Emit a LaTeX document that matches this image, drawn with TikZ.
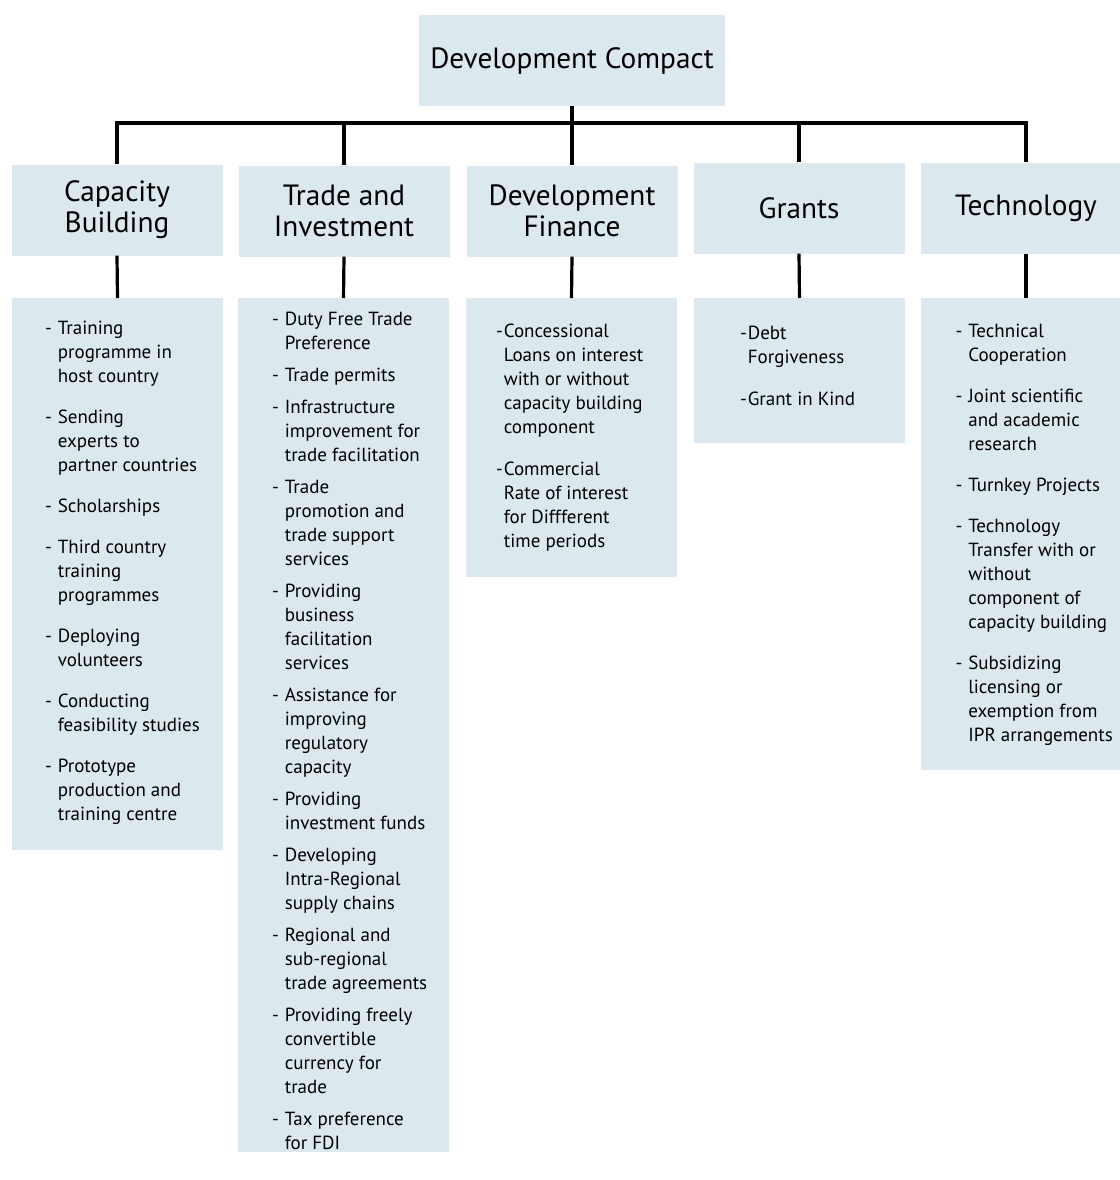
\documentclass[tikz,border=0pt]{standalone}
\usepackage{fontspec}
\setmainfont{PT Sans}
\usetikzlibrary{positioning}
\usepackage{xcolor}
\definecolor{boxblue}{RGB}{219,232,237}
\newcommand{\titlefont}{\fontsize{29.3}{31}\selectfont}
\newcommand{\itemfont}{\fontsize{19}{24}\selectfont}

\begin{document}
\begin{tikzpicture}[x=1pt, y=-1pt]
        % ================= 样式定义 =================
        \tikzset{
            % 顶部与分类框:浅蓝底, 无边框
            headbox/.style={fill=boxblue, minimum width=306pt, minimum height=91pt, inner sep=0pt, align=center, font=\titlefont},
            catbox/.style={fill=boxblue, minimum width=211pt, minimum height=91pt, inner sep=0pt, align=center, font=\titlefont},
            % 下方列表框
            listbox/.style={fill=boxblue, minimum width=211pt, anchor=north, inner sep=0pt},
            itemlist/.style={inner sep=0pt, font=\itemfont},
            % 连线
            bus_line/.style={line width=4.5pt, black, line cap=rect},
            drop_line/.style={line width=3.2pt, black}
        }

        \useasboundingbox (0,0) rectangle (1119,1180);

        % ================= 顶部 =================
        \node[headbox] (dc) at (572,60.5) {Development Compact};
        \coordinate (bus) at (572,123);

        % ================= 五个分类 =================
        \node[catbox] (cb) at (117,210) {Capacity\\Building};
        \node[catbox] (ti) at (344,211) {Trade and\\Investment};
        \node[catbox] (df) at (572,211) {Development\\Finance};
        \node[catbox] (gr) at (799,208) {Grants};
        \node[catbox] (te) at (1026,208) {Technology};

        % ================= 列表框 =================
        \node[listbox, minimum height=552pt] (list-cb) at (117.5,298) {};
        \node[listbox, minimum height=854pt] (list-ti) at (343.5,298) {};
        \node[listbox, minimum height=279pt] (list-df) at (571.5,298) {};
        \node[listbox, minimum height=145pt] (list-gr) at (799.5,298) {};
        \node[listbox, minimum height=472pt] (list-te) at (1026,298) {};

        % 1. 连线
        \draw[drop_line] (dc.south) -- (bus);
        \draw[bus_line] (cb.north |- bus) -- (te.north |- bus);
        \foreach \n in {cb,ti,df,gr,te} {
            \draw[drop_line] (\n.north |- bus) -- (\n.north);
            \draw[drop_line] (\n.south) -- (list-\n.north);
        }

        % 2. 列表文字
        \node[itemlist, below right=19pt and 33pt of list-cb.north west] (items-cb) {%
            \begin{tabular}{@{}l@{\hspace{6pt}}l@{}}
            - & Training\\ & programme in\\ & host country\\[17pt]
            - & Sending\\ & experts to\\ & partner countries\\[17pt]
            - & Scholarships\\[17pt]
            - & Third country\\ & training\\ & programmes\\[17pt]
            - & Deploying\\ & volunteers\\[17pt]
            - & Conducting\\ & feasibility studies\\[17pt]
            - & Prototype\\ & production and\\ & training centre
            \end{tabular}};

        \node[itemlist, below right=10pt and 34pt of list-ti.north west] (items-ti) {%
            \begin{tabular}{@{}l@{\hspace{6pt}}l@{}}
            - & Duty Free Trade\\ & Preference\\[8pt]
            - & Trade permits\\[8pt]
            - & Infrastructure\\ & improvement for\\ & trade facilitation\\[8pt]
            - & Trade\\ & promotion and\\ & trade support\\ & services\\[8pt]
            - & Providing\\ & business\\ & facilitation\\ & services\\[8pt]
            - & Assistance for\\ & improving\\ & regulatory\\ & capacity\\[8pt]
            - & Providing\\ & investment funds\\[8pt]
            - & Developing\\ & Intra-Regional\\ & supply chains\\[8pt]
            - & Regional and\\ & sub-regional\\ & trade agreements\\[8pt]
            - & Providing freely\\ & convertible\\ & currency for\\ & trade\\[8pt]
            - & Tax preference\\ & for FDI
            \end{tabular}};

        \node[itemlist, below right=22pt and 30pt of list-df.north west] (items-df) {%
            \begin{tabular}{@{}l@{\hspace{1pt}}l@{}}
            - & Concessional\\ & Loans on interest\\ & with or without\\ & capacity building\\ & component\\[18pt]
            - & Commercial\\ & Rate of interest\\ & for Diffferent\\ & time periods
            \end{tabular}};

        \node[itemlist, below right=24pt and 46pt of list-gr.north west] (items-gr) {%
            \begin{tabular}{@{}l@{\hspace{1pt}}l@{}}
            - & Debt\\ & Forgiveness\\[18pt]
            - & Grant in Kind
            \end{tabular}};

        \node[itemlist, below right=22pt and 35pt of list-te.north west] (items-te) {%
            \begin{tabular}{@{}l@{\hspace{6pt}}l@{}}
            - & Technical\\ & Cooperation\\[17pt]
            - & Joint scientific\\ & and academic\\ & research\\[17pt]
            - & Turnkey Projects\\[17pt]
            - & Technology\\ & Transfer with or\\ & without\\ & component of\\ & capacity building\\[17pt]
            - & Subsidizing\\ & licensing or\\ & exemption from\\ & IPR arrangements
            \end{tabular}};

    \end{tikzpicture}
\end{document}
